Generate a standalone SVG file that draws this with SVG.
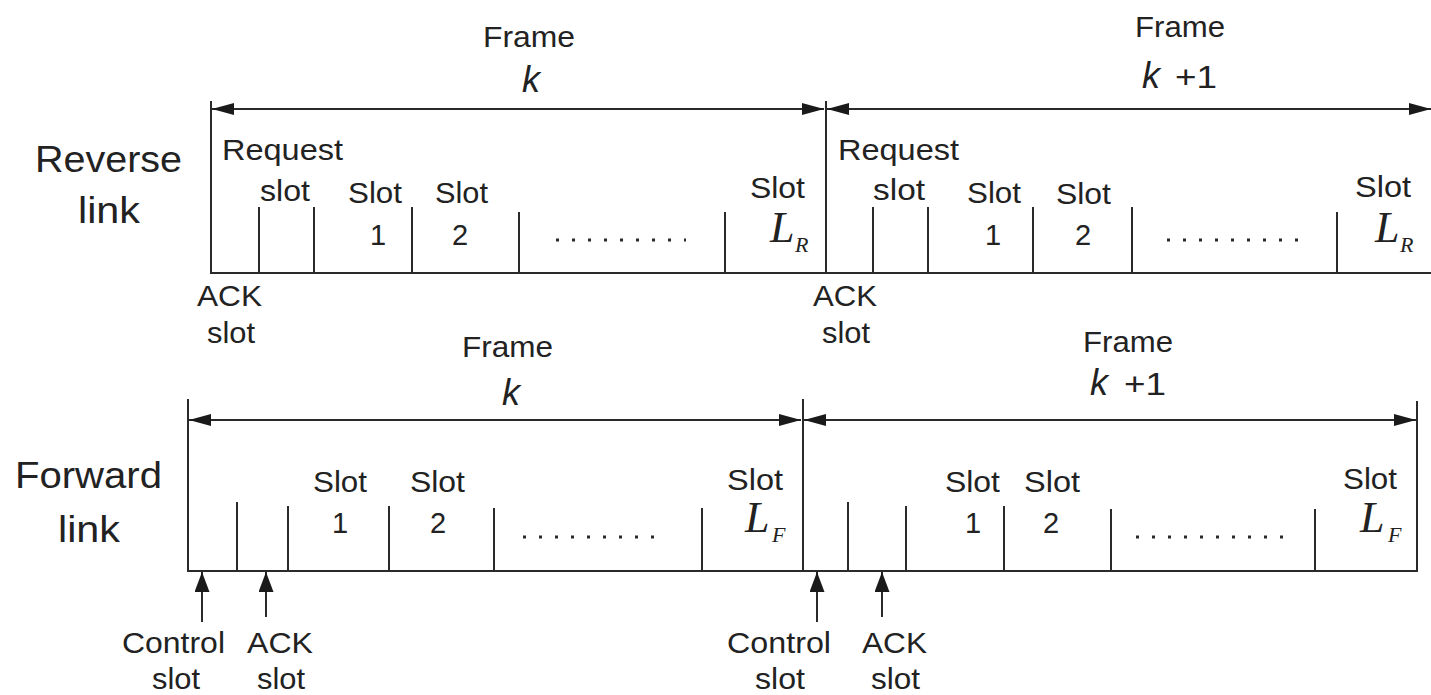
<svg xmlns="http://www.w3.org/2000/svg" width="1431" height="695" viewBox="0 0 1431 695">
<style>
.ln{stroke:#2a2a2a;stroke-width:2;fill:none}
.dots{stroke:#2a2a2a;stroke-width:3;stroke-dasharray:3 13;fill:none}
text{font-family:"Liberation Sans",Arial,sans-serif;fill:#222}
.s{font-size:29px}
.b{font-size:37px}
.t{font-size:30px}
.p{font-size:32px}
.k{font-size:36px;font-style:italic}
.L{font-family:"Liberation Serif","Times New Roman",serif;font-style:italic;font-size:44px}
.sub{font-family:"Liberation Serif","Times New Roman",serif;font-style:italic;font-size:22px}
.c{text-anchor:middle}
</style>
<defs>
<marker id="ah" markerUnits="userSpaceOnUse" markerWidth="22" markerHeight="12" refX="22" refY="6" orient="auto-start-reverse"><path d="M0,0 L22,6 L0,12 z" fill="#1a1a1a"/></marker>
<marker id="au" markerUnits="userSpaceOnUse" markerWidth="20" markerHeight="15" refX="20" refY="7.5" orient="auto"><path d="M0,0 L20,7.5 L0,15 z" fill="#1a1a1a"/></marker>
</defs>

<g id="connectors">
<line class="ln" x1="212" y1="109" x2="824" y2="109" marker-start="url(#ah)" marker-end="url(#ah)"/>
<line class="ln" x1="827" y1="109" x2="1431" y2="109" marker-start="url(#ah)" marker-end="url(#ah)"/>
<line class="ln" x1="189" y1="420" x2="801" y2="420" marker-start="url(#ah)" marker-end="url(#ah)"/>
<line class="ln" x1="804" y1="420" x2="1416" y2="420" marker-start="url(#ah)" marker-end="url(#ah)"/>
<line class="ln" x1="202" y1="622" x2="202" y2="572" marker-end="url(#au)"/>
<line class="ln" x1="266" y1="617" x2="266" y2="572" marker-end="url(#au)"/>
<line class="ln" x1="817" y1="622" x2="817" y2="572" marker-end="url(#au)"/>
<line class="ln" x1="882" y1="617" x2="882" y2="572" marker-end="url(#au)"/>
</g>

<g id="reverse-link">
<text class="b" x="35" y="172" textLength="147" lengthAdjust="spacingAndGlyphs">Reverse</text>
<text class="b" x="78" y="223" textLength="62" lengthAdjust="spacingAndGlyphs">link</text>
<path class="ln" d="M211,101 V273 H1431 M826,101 V273"/>
<path class="ln" d="M259,207 V273 M314,207 V273 M412,207 V273 M519,212 V273 M725,212 V273"/>
<path class="ln" d="M873,207 V273 M928,207 V273 M1033,207 V273 M1132,207 V273 M1337,212 V273"/>
<line class="dots" x1="556" y1="240" x2="686" y2="240" stroke-width="2"/>
<line class="dots" x1="1167" y1="240" x2="1300" y2="240"/>
</g>

<g id="reverse-frame-k">
<text class="t" x="483" y="47" textLength="92" lengthAdjust="spacingAndGlyphs">Frame</text>
<text class="k" x="522" y="92">k</text>
</g>
<g id="reverse-frame-k1">
<text class="t" x="1135" y="37" textLength="90" lengthAdjust="spacingAndGlyphs">Frame</text>
<text class="k" x="1142" y="88">k</text>
<text class="p" x="1175" y="88" textLength="42" lengthAdjust="spacingAndGlyphs">+1</text>
</g>

<g id="reverse-slots-k">
<text class="s" x="222" y="160" textLength="121" lengthAdjust="spacingAndGlyphs">Request</text>
<text class="s" x="260" y="201" textLength="50" lengthAdjust="spacingAndGlyphs">slot</text>
<text class="s" x="348" y="203" textLength="54" lengthAdjust="spacingAndGlyphs">Slot</text>
<text class="s c" x="378" y="245">1</text>
<text class="s" x="435" y="203" textLength="53" lengthAdjust="spacingAndGlyphs">Slot</text>
<text class="s c" x="460" y="245">2</text>
<text class="s" x="750" y="198" textLength="55" lengthAdjust="spacingAndGlyphs">Slot</text>
<text class="L" x="770" y="242">L</text>
<text class="sub" x="795" y="252">R</text>
<text class="s" x="197" y="306" textLength="65" lengthAdjust="spacingAndGlyphs">ACK</text>
<text class="s" x="207" y="343" textLength="48" lengthAdjust="spacingAndGlyphs">slot</text>
</g>

<g id="reverse-slots-k1">
<text class="s" x="838" y="160" textLength="121" lengthAdjust="spacingAndGlyphs">Request</text>
<text class="s" x="873" y="200" textLength="52" lengthAdjust="spacingAndGlyphs">slot</text>
<text class="s" x="967" y="203" textLength="54" lengthAdjust="spacingAndGlyphs">Slot</text>
<text class="s c" x="993" y="245">1</text>
<text class="s" x="1056" y="204" textLength="55" lengthAdjust="spacingAndGlyphs">Slot</text>
<text class="s c" x="1083" y="245">2</text>
<text class="s" x="1355" y="197" textLength="56" lengthAdjust="spacingAndGlyphs">Slot</text>
<text class="L" x="1375" y="242">L</text>
<text class="sub" x="1400" y="252">R</text>
<text class="s" x="813" y="306" textLength="64" lengthAdjust="spacingAndGlyphs">ACK</text>
<text class="s" x="822" y="343" textLength="48" lengthAdjust="spacingAndGlyphs">slot</text>
</g>

<g id="forward-link">
<text class="b" x="15" y="488" textLength="147" lengthAdjust="spacingAndGlyphs">Forward</text>
<text class="b" x="58" y="542" textLength="62" lengthAdjust="spacingAndGlyphs">link</text>
<path class="ln" d="M188,399 V571 H1417 V401 M803,399 V571"/>
<path class="ln" d="M237,502 V571 M288,506 V571 M389,506 V571 M494,508 V571 M702,508 V571"/>
<path class="ln" d="M848,502 V571 M906,506 V571 M1004,506 V571 M1111,509 V571 M1315,509 V571"/>
<line class="dots" x1="523" y1="537" x2="658" y2="537"/>
<line class="dots" x1="1136" y1="537" x2="1288" y2="537"/>
</g>

<g id="forward-frame-k">
<text class="t" x="462" y="357" textLength="91" lengthAdjust="spacingAndGlyphs">Frame</text>
<text class="k" x="502" y="405">k</text>
</g>
<g id="forward-frame-k1">
<text class="t" x="1083" y="352" textLength="90" lengthAdjust="spacingAndGlyphs">Frame</text>
<text class="k" x="1090" y="395">k</text>
<text class="p" x="1124" y="395" textLength="42" lengthAdjust="spacingAndGlyphs">+1</text>
</g>

<g id="forward-slots-k">
<text class="s" x="313" y="492" textLength="54" lengthAdjust="spacingAndGlyphs">Slot</text>
<text class="s c" x="340" y="533">1</text>
<text class="s" x="410" y="492" textLength="55" lengthAdjust="spacingAndGlyphs">Slot</text>
<text class="s c" x="438" y="533">2</text>
<text class="s" x="727" y="490" textLength="56" lengthAdjust="spacingAndGlyphs">Slot</text>
<text class="L" x="745" y="532">L</text>
<text class="sub" x="772" y="542">F</text>
<text class="s" x="122" y="653" textLength="103" lengthAdjust="spacingAndGlyphs">Control</text>
<text class="s" x="152" y="689" textLength="48" lengthAdjust="spacingAndGlyphs">slot</text>
<text class="s" x="247" y="653" textLength="66" lengthAdjust="spacingAndGlyphs">ACK</text>
<text class="s" x="257" y="689" textLength="48" lengthAdjust="spacingAndGlyphs">slot</text>
</g>

<g id="forward-slots-k1">
<text class="s" x="945" y="492" textLength="55" lengthAdjust="spacingAndGlyphs">Slot</text>
<text class="s c" x="973" y="533">1</text>
<text class="s" x="1024" y="492" textLength="56" lengthAdjust="spacingAndGlyphs">Slot</text>
<text class="s c" x="1051" y="533">2</text>
<text class="s" x="1343" y="489" textLength="54" lengthAdjust="spacingAndGlyphs">Slot</text>
<text class="L" x="1360" y="532">L</text>
<text class="sub" x="1388" y="542">F</text>
<text class="s" x="727" y="653" textLength="104" lengthAdjust="spacingAndGlyphs">Control</text>
<text class="s" x="755" y="689" textLength="50" lengthAdjust="spacingAndGlyphs">slot</text>
<text class="s" x="862" y="653" textLength="65" lengthAdjust="spacingAndGlyphs">ACK</text>
<text class="s" x="871" y="689" textLength="49" lengthAdjust="spacingAndGlyphs">slot</text>
</g>
</svg>
